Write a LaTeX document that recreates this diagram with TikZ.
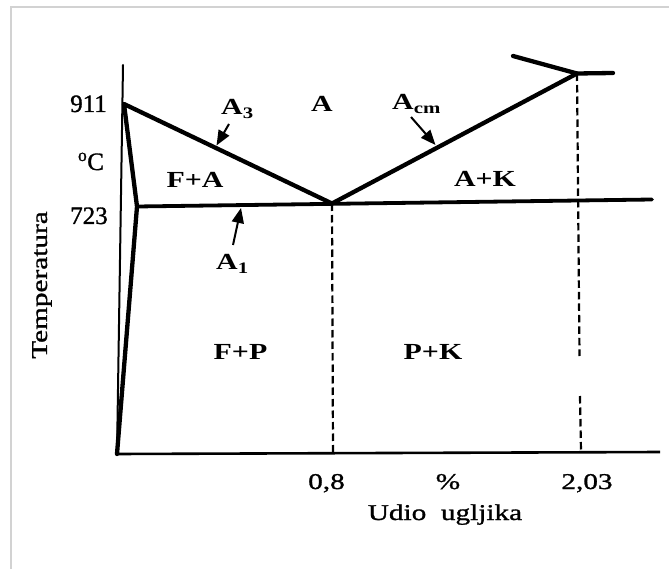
\documentclass[tikz,border=0pt]{standalone}
\usepackage{fontspec}
\setmainfont[FakeStretch=1.3]{Liberation Serif}
\newfontfamily\numfont[FakeBold=1.2]{Liberation Serif}
\newfontfamily\txtfont[FakeStretch=1.3,FakeBold=1.2]{Liberation Serif}
\usetikzlibrary{arrows.meta}
\tikzset{
  frameline/.style={draw=gray!35, line width=2pt},
  axisline/.style={line width=2pt, line cap=round},
  phaseline/.style={line width=4.3pt, line join=round, line cap=round},
  eutline/.style={line width=3.8pt, line cap=round},
  dashline/.style={line width=2.2pt, dash pattern=on 7.5pt off 4pt},
  arr/.style={line width=2pt, -{Triangle[length=15pt,width=12pt]}},
  phaselbl/.style={inner sep=0pt, anchor=base, font=\fontsize{23}{23}\selectfont\bfseries},
  numlbl/.style={inner sep=0pt, anchor=base, font=\fontsize{25}{25}\selectfont\numfont},
  axlbl/.style={inner sep=0pt, anchor=base, font=\fontsize{22.5}{22.5}\selectfont\txtfont},
}
\newcommand{\lowsub}[1]{\raisebox{-0.3ex}{\fontsize{16}{16}\selectfont #1}}
\begin{document}
\begin{tikzpicture}[x=1pt,y=-1pt]
\useasboundingbox (0,0) rectangle (669,569);
% frame
\draw[frameline] (10.5,569) -- (10.5,7) -- (669,7);
% key points
\coordinate (axtop) at (123,65);
\coordinate (origin) at (117,454);
\coordinate (p911) at (124,104);
\coordinate (p723) at (137,206.5);
\coordinate (eut) at (332,203.5);
\coordinate (eright) at (652,199.5);
\coordinate (p203) at (577,73.5);
\coordinate (topl) at (513,56);
\coordinate (topr) at (613,73);
\coordinate (xright) at (660,452);
\coordinate (d08) at (333,453);
\coordinate (d203a) at (579.5,356);
\coordinate (d203b) at (580,396);
\coordinate (d203) at (581,452);
% axes
\draw[axisline] (axtop) -- (origin);
\draw[line width=2.6pt] (origin) -- (xright);
% phase boundaries
\draw[phaseline] (origin) -- (p723) -- (p911) -- (eut) -- (p203);
\draw[phaseline] (topl) -- (p203) -- (topr);
\draw[eutline] (p723) -- (eright);
% dashed lines
\draw[dashline] (eut) -- (d08);
\draw[dashline] (p203) -- (d203a);
\draw[dashline] (d203b) -- (d203);
% labels
\node[numlbl] (t911) at (88.5,112) {911};
\node[numlbl] (tdeg) at (91,170) {\textsuperscript{o}C};
\node[numlbl] (t723) at (89,224) {723};
\node[axlbl, anchor=center, rotate=90] (temp) at (42,285) {Temperatura};
\node[phaselbl, anchor=base west] (la3) at (221,115) {A\lowsub{3}};
\node[phaselbl] (la) at (322,112) {A};
\node[phaselbl, anchor=base west] (lacm) at (392,110) {A\lowsub{cm}};
\node[phaselbl] (lfa) at (195,188) {F+A};
\node[phaselbl] (lak) at (485,187) {A+K};
\node[phaselbl, anchor=base west] (la1) at (216,270) {A\lowsub{1}};
\node[phaselbl] (lfp) at (240.5,359) {F+P};
\node[phaselbl] (lpk) at (433,359) {P+K};
\node[axlbl] (t08) at (326.5,489) {0,8};
\node[axlbl] (tpct) at (448,489) {\%};
\node[axlbl] (t203) at (587,489) {2,03};
\node[axlbl] (tudio) at (445,520) {Udio\ \ ugljika};
% arrows
\coordinate (a3tail) at (229,124);
\coordinate (a3tip) at (216.5,145.5);
\coordinate (acmtail) at (411,117);
\coordinate (acmtip) at (435.5,145);
\coordinate (a1tail) at (233,245);
\coordinate (a1tip) at (241,208);
\draw[arr] (a3tail) -- (a3tip);
\draw[arr] (acmtail) -- (acmtip);
\draw[arr] (a1tail) -- (a1tip);
\end{tikzpicture}
\end{document}
